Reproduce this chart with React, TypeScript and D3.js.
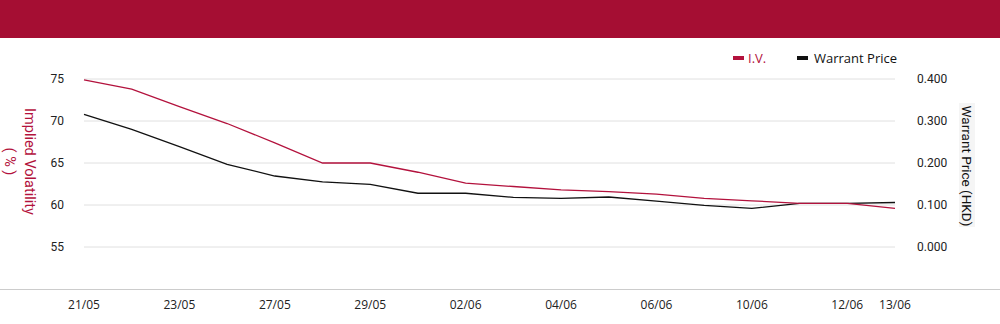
import React from 'react';
import * as d3 from 'd3';

const dates = ['21/05','22/05','23/05','26/05','27/05','28/05','29/05','30/05','02/06','03/06','04/06','05/06','06/06','09/06','10/06','11/06','12/06','13/06'];
const shownDates = ['21/05','23/05','27/05','29/05','02/06','04/06','06/06','10/06','12/06','13/06'];
const ivValues = [74.9, 73.8, 71.7, 69.7, 67.4, 65.0, 65.0, 63.9, 62.6, 62.2, 61.8, 61.6, 61.3, 60.8, 60.5, 60.2, 60.2, 59.6];
const priceValues = [0.316, 0.280, 0.239, 0.197, 0.169, 0.155, 0.149, 0.128, 0.128, 0.118, 0.116, 0.119, 0.109, 0.099, 0.092, 0.104, 0.104, 0.106];
const leftTicks = [55, 60, 65, 70, 75];
const rightTicks = [0, 0.1, 0.2, 0.3, 0.4];

const W = 1000, H = 324;
const RED = '#b3123d';
const HEADER = '#a50e33';

export default function App() {
  const x = d3.scalePoint<string>().domain(dates).range([84, 895]);
  const yL = d3.scaleLinear().domain([50, 75]).range([289, 79]);
  const yR = d3.scaleLinear().domain([-0.1, 0.4]).range([289, 79]);
  const ivLine = d3.line<number>().x((_, i) => x(dates[i])!).y(d => yL(d));
  const prLine = d3.line<number>().x((_, i) => x(dates[i])!).y(d => yR(d));
  const fmt = d3.format('.3f');
  return (
    <svg width={W} height={H} style={{ position: 'absolute', left: 0, top: 0, display: 'block' }}>
      <rect x={0} y={0} width={W} height={H} fill="#fff" />
      <rect x={0} y={0} width={W} height={38} fill={HEADER} />
      {leftTicks.map(t => (
        <line key={t} x1={84} x2={895} y1={yL(t)} y2={yL(t)} stroke="#e0e0e0" strokeWidth={1} />
      ))}
      <line x1={0} x2={W} y1={289.5} y2={289.5} stroke="#cccccc" strokeWidth={1} />
      {leftTicks.map(t => (
        <text key={t} x={64} y={yL(t)} dy="0.35em" textAnchor="end" fontFamily="Roboto" fontSize={12} fill="#222">{t}</text>
      ))}
      {rightTicks.map(t => (
        <text key={t} x={917} y={yR(t)} dy="0.35em" textAnchor="start" fontFamily="Roboto" fontSize={12} fill="#222">{fmt(t)}</text>
      ))}
      {shownDates.map(d => (
        <text key={d} x={x(d)!} y={305} dy="0.35em" textAnchor="middle" fontFamily="'Open Sans'" fontSize={12} fill="#222">{d}</text>
      ))}
      <path d={prLine(priceValues)!} fill="none" stroke="#111" strokeWidth={1.3} />
      <path d={ivLine(ivValues)!} fill="none" stroke={RED} strokeWidth={1.3} />
      <g transform="translate(30,161.5) rotate(90)">
        <text textAnchor="middle" dy="0.35em" fontFamily="Roboto" fontSize={14.5} fill={RED}>Implied Volatility</text>
        <text y={20} textAnchor="middle" dy="0.35em" fontFamily="Roboto" fontSize={14.5} fill={RED}>( % )</text>
      </g>
      <rect x={959} y={103} width={16} height={124} fill="#f5f5f5" />
      <g transform="translate(967,166) rotate(90)">
        <text textAnchor="middle" dy="0.35em" fontFamily="Roboto" fontSize={13.5} fill="#111">Warrant Price (HKD)</text>
      </g>
      <rect x={733} y={56} width={11} height={4} fill={RED} />
      <text x={748} y={58} dy="0.35em" fontFamily="'Open Sans'" fontSize={13} fill={RED}>I.V.</text>
      <rect x={797} y={56} width={11} height={4} fill="#111" />
      <text x={814} y={58} dy="0.35em" fontFamily="'Open Sans'" fontSize={13} fill="#111">Warrant Price</text>
    </svg>
  );
}
